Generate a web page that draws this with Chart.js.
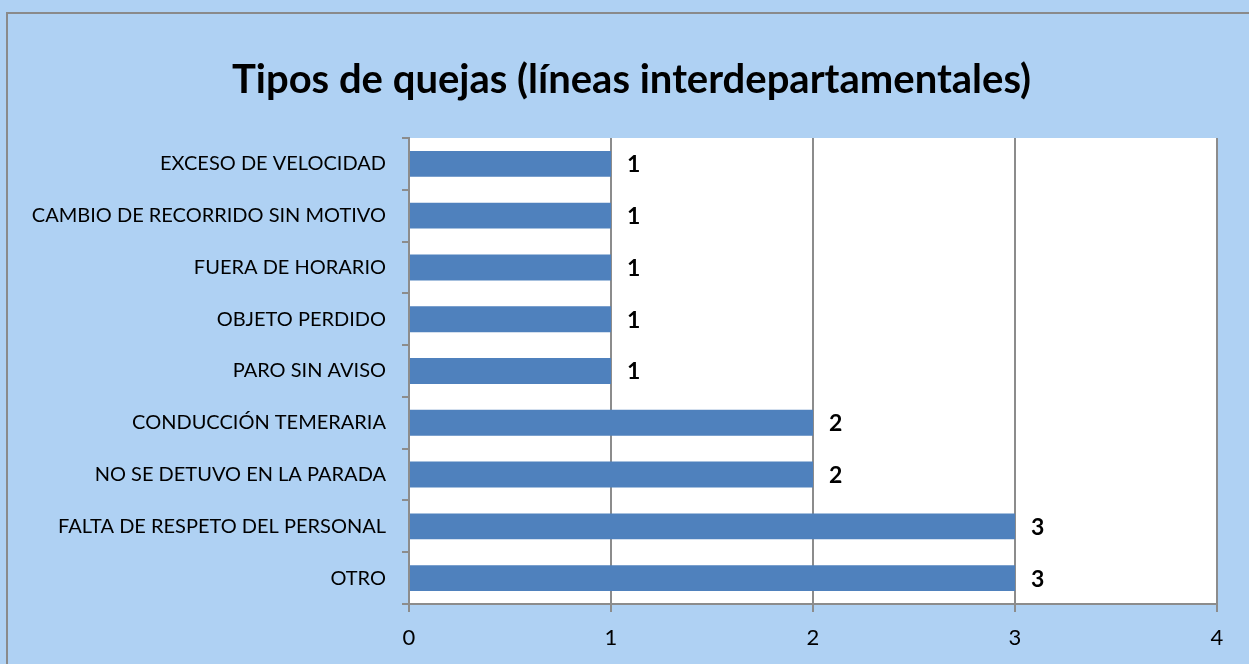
<!DOCTYPE html>
<html>
<head>
<meta charset="utf-8">
<script src="https://cdn.jsdelivr.net/npm/chart.js@4.4.1/dist/chart.umd.min.js"></script>
<style>
html,body{margin:0;padding:0;background:#afd1f3;}
#wrap{width:1249px;height:664px;position:relative;}
</style>
</head>
<body>
<div id="wrap"><canvas id="c" width="1249" height="664"></canvas></div>
<script>
const categories = [
  "EXCESO DE VELOCIDAD",
  "CAMBIO DE RECORRIDO SIN MOTIVO",
  "FUERA DE HORARIO",
  "OBJETO PERDIDO",
  "PARO SIN AVISO",
  "CONDUCCIÓN TEMERARIA",
  "NO SE DETUVO EN LA PARADA",
  "FALTA DE RESPETO DEL PERSONAL",
  "OTRO"
];
const values = [1, 1, 1, 1, 1, 2, 2, 3, 3];
const xTicks = [0, 1, 2, 3, 4];
const titleText = "Tipos de quejas (líneas interdepartamentales)";

const FONT = "Lato, 'Open Sans', sans-serif";

const bgPlugin = {
  id: 'bg',
  beforeDraw(chart) {
    const ctx = chart.ctx, a = chart.chartArea;
    ctx.save();
    ctx.fillStyle = '#afd1f3';
    ctx.fillRect(0, 0, chart.width, chart.height);
    ctx.strokeStyle = '#8a8a8a';
    ctx.lineWidth = 2;
    ctx.beginPath();
    ctx.moveTo(7, chart.height);
    ctx.lineTo(7, 13);
    ctx.lineTo(chart.width, 13);
    ctx.stroke();
    ctx.fillStyle = '#ffffff';
    ctx.fillRect(a.left, a.top, a.right - a.left, a.bottom - a.top);
    // chart title
    ctx.font = "bold 40px " + FONT;
    ctx.fillStyle = '#000';
    ctx.textAlign = 'center';
    ctx.textBaseline = 'middle';
    ctx.fillText(titleText, 631.5, 80);
    ctx.restore();
  }
};

const labelPlugin = {
  id: 'vals',
  afterDatasetsDraw(chart) {
    const ctx = chart.ctx;
    const meta = chart.getDatasetMeta(0);
    ctx.save();
    ctx.font = "bold 23px " + FONT;
    ctx.fillStyle = '#000';
    ctx.textAlign = 'left';
    ctx.textBaseline = 'middle';
    meta.data.forEach((bar, i) => {
      ctx.fillText(String(values[i]), bar.x + 16, bar.y + 1);
    });
    ctx.restore();
  }
};

new Chart(document.getElementById('c'), {
  type: 'bar',
  data: {
    labels: categories,
    datasets: [{
      data: values,
      backgroundColor: '#4f81bd',
      borderWidth: 0,
      barPercentage: 0.5,
      categoryPercentage: 1.0
    }]
  },
  options: {
    indexAxis: 'y',
    responsive: false,
    animation: false,
    devicePixelRatio: 1,
    layout: { padding: { left: 0, right: 32, top: 138, bottom: 0 } },
    plugins: {
      legend: { display: false },
      tooltip: { enabled: false },
      title: { display: false }
    },
    scales: {
      x: {
        min: 0, max: 4,
        afterBuildTicks(axis) { axis.ticks = xTicks.map(v => ({ value: v })); },
        afterFit(axis) { axis.height = 60; },
        grid: { color: '#8c8c8c', lineWidth: 2, drawTicks: true, tickLength: 8 },
        border: { color: '#8c8c8c', width: 2 },
        ticks: { color: '#000', padding: 13, font: { family: FONT, size: 22 } }
      },
      y: {
        afterFit(axis) { axis.width = 409; },
        grid: { display: true, drawOnChartArea: false, color: '#8c8c8c', lineWidth: 2, tickLength: 7 },
        border: { color: '#8c8c8c', width: 2 },
        ticks: { color: '#000', padding: 16, font: { family: FONT, size: 20 } }
      }
    }
  },
  plugins: [bgPlugin, labelPlugin]
});
</script>
</body>
</html>
